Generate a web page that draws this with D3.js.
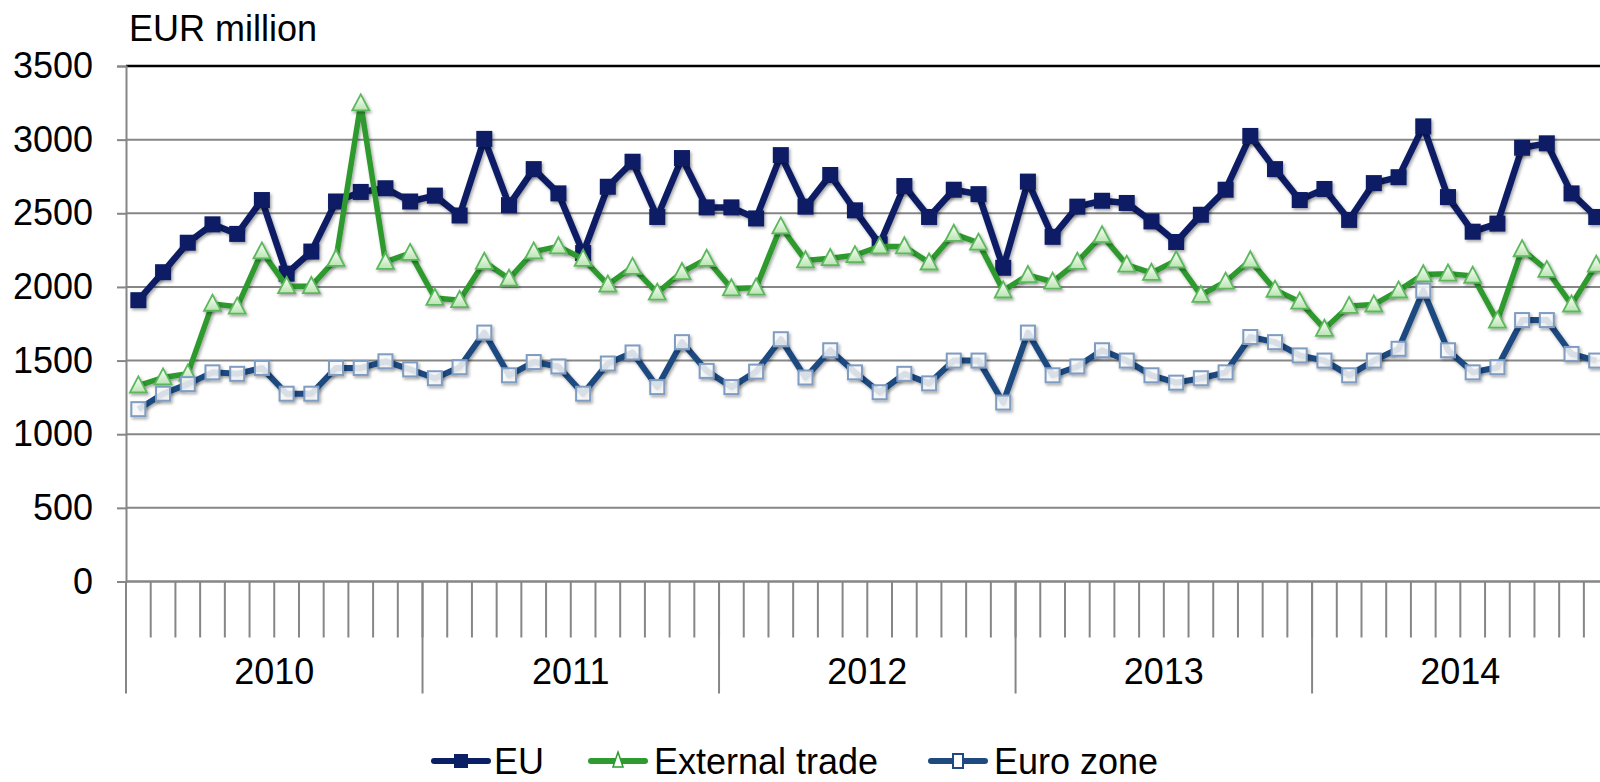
<!DOCTYPE html>
<html>
<head>
<meta charset="utf-8">
<script src="https://cdn.jsdelivr.net/npm/d3@7"></script>
<style>
  body { margin: 0; background: #fff; overflow: hidden; }
  text { font-family: "Liberation Sans", Arial, sans-serif; fill: #000; }
</style>
</head>
<body>
<div class="chart"></div>
<script>
const WIDTH = 1600, HEIGHT = 782;

// data (EUR million, monthly)
const years = ["2010", "2011", "2012", "2013", "2014"];
const yTicks = [0, 500, 1000, 1500, 2000, 2500, 3000, 3500];
const eu = [
  1910, 2100, 2300, 2425, 2360, 2590, 2090, 2240, 2580, 2645, 2670, 2580,
  2620, 2485, 3005, 2555, 2800, 2635, 2230, 2680, 2850, 2475, 2875, 2540,
  2540, 2465, 2895, 2545, 2760, 2520, 2290, 2685, 2475, 2660, 2630, 2130,
  2715, 2340, 2545, 2585, 2570, 2445, 2305, 2490, 2660, 3025, 2800, 2590,
  2665, 2455, 2705, 2745, 3090, 2610, 2375, 2430, 2945, 2975, 2635, 2475
];
const externalTrade = [
  1330, 1385, 1410, 1885, 1865, 2240, 2005, 2005, 2190, 3245, 2170, 2230,
  1925, 1910, 2170, 2055, 2240, 2275, 2190, 2015, 2135, 1960, 2100, 2190,
  1990, 1995, 2410, 2180, 2195, 2215, 2275, 2275, 2165, 2360, 2300, 1975,
  2080, 2035, 2170, 2350, 2150, 2095, 2180, 1945, 2035, 2180, 1980, 1900,
  1715, 1870, 1880, 1975, 2085, 2090, 2075, 1770, 2255, 2115, 1880, 2150
];
const euroZone = [
  1170, 1275, 1340, 1420, 1410, 1450, 1275, 1275, 1450, 1450, 1495, 1440,
  1380, 1455, 1690, 1400, 1490, 1460, 1275, 1480, 1555, 1320, 1625, 1430,
  1320, 1425, 1645, 1385, 1570, 1420, 1285, 1410, 1345, 1500, 1500, 1215,
  1690, 1400, 1460, 1570, 1500, 1400, 1350, 1380, 1420, 1660, 1625, 1535,
  1500, 1400, 1500, 1580, 1975, 1570, 1420, 1455, 1775, 1775, 1545, 1500
];
const months = years.flatMap(y => d3.range(1, 13).map(m => y + "-" + m));

const plotLeft = 126, plotRight = 1608.6, plotTop = 66, plotBottom = 581.5;

const x = d3.scaleBand().domain(months).range([plotLeft, plotRight]);
const xYear = d3.scaleBand().domain(years).range([plotLeft, plotRight]);
const y = d3.scaleLinear().domain([0, 3500]).range([plotBottom, plotTop]);
const bw = x.bandwidth();

var svg = d3.select(".chart").append("svg")
  .attr("width", WIDTH)
  .attr("height", HEIGHT);

const defs = svg.append("defs");
const shadow = defs.append("filter").attr("id", "shadow")
  .attr("x", "-50%").attr("y", "-50%").attr("width", "200%").attr("height", "200%");
shadow.append("feDropShadow")
  .attr("dx", 1.5).attr("dy", 2).attr("stdDeviation", 1.5)
  .attr("flood-color", "#000").attr("flood-opacity", 0.35);
const triGrad = defs.append("linearGradient").attr("id", "triGrad")
  .attr("x1", 0).attr("y1", 0).attr("x2", 0).attr("y2", 1);
triGrad.append("stop").attr("offset", "0%").attr("stop-color", "#ffffff");
triGrad.append("stop").attr("offset", "100%").attr("stop-color", "#b9e4b0");

// gridlines
svg.append("g")
  .selectAll("line")
  .data(yTicks)
  .join("line")
  .attr("x1", plotLeft).attr("x2", WIDTH)
  .attr("y1", d => y(d)).attr("y2", d => y(d))
  .attr("stroke", d => d == 3500 ? "#000" : "#868686")
  .attr("stroke-width", d => d == 3500 ? 2.5 : 2);

// y axis
const yAxis = svg.append("g")
  .attr("transform", `translate(${plotLeft},0)`)
  .call(d3.axisLeft(y).tickValues(yTicks).tickFormat(d3.format("d")).tickSize(9).tickPadding(24));
yAxis.select(".domain").attr("stroke", "#868686").attr("stroke-width", 2);
yAxis.selectAll(".tick line").attr("stroke", "#868686").attr("stroke-width", 2);
yAxis.selectAll(".tick text")
  .attr("font-size", 36)
  .attr("font-family", "Liberation Sans, Arial, sans-serif")
  .attr("fill", "#000");

// x axis: month ticks and year separators
svg.append("g")
  .selectAll("line")
  .data(months)
  .join("line")
  .attr("x1", d => x(d)).attr("x2", d => x(d))
  .attr("y1", plotBottom).attr("y2", plotBottom + 56)
  .attr("stroke", "#868686").attr("stroke-width", 2);
svg.append("g")
  .selectAll("line")
  .data(years.concat(["end"]))
  .join("line")
  .attr("x1", d => d == "end" ? plotRight : xYear(d))
  .attr("x2", d => d == "end" ? plotRight : xYear(d))
  .attr("y1", plotBottom).attr("y2", plotBottom + 112)
  .attr("stroke", "#868686").attr("stroke-width", 2);
svg.append("line")
  .attr("x1", plotLeft).attr("x2", WIDTH)
  .attr("y1", plotBottom).attr("y2", plotBottom)
  .attr("stroke", "#868686").attr("stroke-width", 2);
svg.append("g")
  .selectAll("text")
  .data(years)
  .join("text")
  .attr("x", d => xYear(d) + xYear.bandwidth() / 2)
  .attr("y", 684)
  .attr("text-anchor", "middle")
  .attr("font-size", 36)
  .text(d => d);

// unit label
svg.append("text")
  .attr("x", 129).attr("y", 41)
  .attr("font-size", 36)
  .text("EUR million");

// series
const series = [
  { name: "EU", values: eu, color: "#0b1f65", width: 6.5, marker: "square" },
  { name: "External trade", values: externalTrade, color: "#2f9a2f", width: 5.5, marker: "triangle" },
  { name: "Euro zone", values: euroZone, color: "#1f4a80", width: 6, marker: "hollow" }
];

const line = d3.line()
  .x((d, i) => x(months[i]) + bw / 2)
  .y(d => y(d));

function drawMarker(g, type, size) {
  if (type == "square") {
    g.append("rect")
      .attr("x", -size / 2).attr("y", -size / 2)
      .attr("width", size).attr("height", size)
      .attr("fill", "#0b1f65");
  } else if (type == "triangle") {
    const h = size * 0.9;
    g.append("path")
      .attr("d", `M0,${-h * 0.6}L${size / 2},${h * 0.45}L${-size / 2},${h * 0.45}Z`)
      .attr("fill", "url(#triGrad)")
      .attr("stroke", "#5cb85c").attr("stroke-width", 1.8);
  } else {
    g.append("rect")
      .attr("x", -size / 2 + 1).attr("y", -size / 2 + 1)
      .attr("width", size - 2).attr("height", size - 2)
      .attr("fill", "rgba(255,255,255,0.8)")
      .attr("stroke", "#7f9cc2").attr("stroke-width", 2);
  }
}

const plot = svg.append("g");
series.forEach(s => {
  plot.append("path")
    .datum(s.values)
    .attr("d", line)
    .attr("fill", "none")
    .attr("stroke", s.color)
    .attr("stroke-width", s.width)
    .attr("stroke-linejoin", "round")
    .attr("filter", "url(#shadow)");
  plot.append("g")
    .selectAll("g")
    .data(s.values)
    .join("g")
    .attr("transform", (d, i) => `translate(${x(months[i]) + bw / 2},${y(d)})`)
    .attr("filter", "url(#shadow)")
    .each(function() { drawMarker(d3.select(this), s.marker, s.marker == "triangle" ? 17 : 16); });
});

// legend
const legendItems = [
  { s: series[0], x0: 434, tx: 494 },
  { s: series[1], x0: 591, tx: 654 },
  { s: series[2], x0: 931, tx: 994 }
];
const legY = 761;
const leg = svg.append("g");
legendItems.forEach(li => {
  leg.append("line")
    .attr("x1", li.x0).attr("x2", li.x0 + 54)
    .attr("y1", legY).attr("y2", legY)
    .attr("stroke", li.s.color).attr("stroke-width", 6)
    .attr("stroke-linecap", "round");
  const m = leg.append("g").attr("transform", `translate(${li.x0 + 27},${legY})`);
  if (li.s.marker == "square") {
    drawMarker(m, "square", 14);
  } else if (li.s.marker == "triangle") {
    m.append("path")
      .attr("d", "M0,-9L5,6L-5,6Z")
      .attr("fill", "#fff")
      .attr("stroke", "#2f9a2f").attr("stroke-width", 1.5);
  } else {
    m.append("rect")
      .attr("x", -5).attr("y", -7).attr("width", 10).attr("height", 14)
      .attr("fill", "#fff").attr("stroke", "#1f4a80").attr("stroke-width", 2);
  }
  leg.append("text")
    .attr("x", li.tx).attr("y", legY + 13)
    .attr("font-size", 36)
    .text(li.s.name);
});
</script>
</body>
</html>
